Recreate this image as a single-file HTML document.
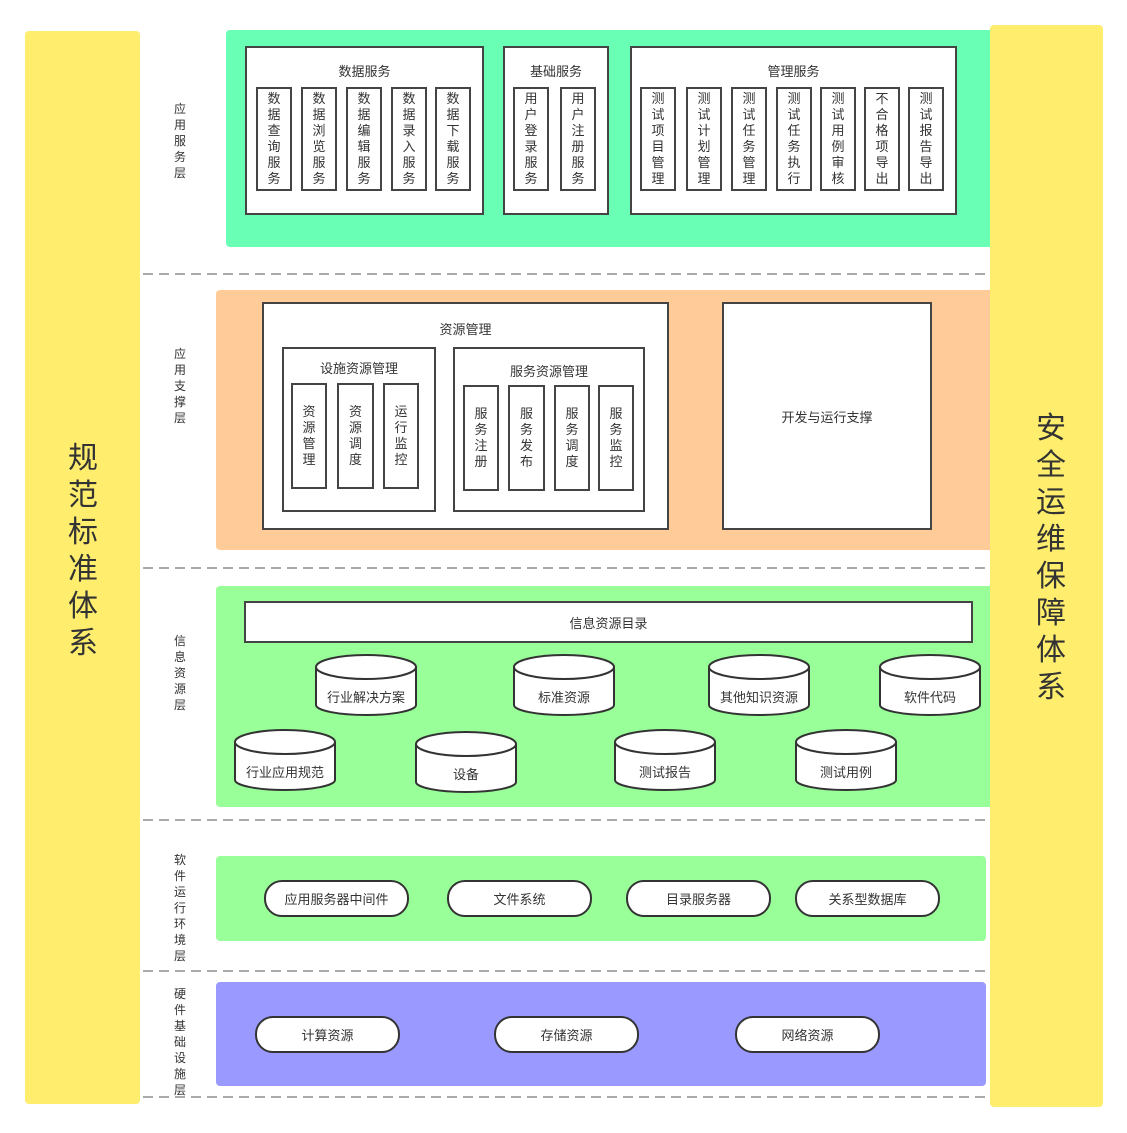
<!DOCTYPE html>
<html><head><meta charset="utf-8"><style>
body{margin:0;width:1127px;height:1133px;background:#fff;position:relative;font-family:"Liberation Sans","Noto Sans CJK SC",sans-serif;color:#333;overflow:hidden}
div{box-sizing:border-box}
.a{position:absolute}
.bg{position:absolute;border-radius:4px}
.box{position:absolute;background:#fff;border:2px solid #444;font-size:13px;text-align:center}
.col{position:absolute;background:#fff;border:2px solid #444;font-size:13px;display:flex;align-items:center;justify-content:center;text-align:center;line-height:16px;width:36px}
.t{position:absolute;width:100%;text-align:center;font-size:13px}
.dash{position:absolute;left:143px;width:847px;height:2px;background:repeating-linear-gradient(90deg,#aaa 0 10px,transparent 10px 16px)}
.lab{position:absolute;left:172px;width:16px;font-size:12px;line-height:16px;text-align:center;color:#333}
.pill{position:absolute;background:#fff;border:2px solid #333;border-radius:18px;height:37px;width:145px;display:flex;align-items:center;justify-content:center;font-size:13px}
.cyl{position:absolute;width:104px;height:64px}
.cyl span{position:absolute;left:0;width:100%;top:34px;text-align:center;font-size:13px}
</style></head><body>
<div class="bg" style="left:25px;top:31px;width:115px;height:1073px;background:#ffee6e"></div>
<div class="a" style="left:66px;top:440px;width:34px;font-size:30px;line-height:37px;text-align:center;color:#333">规<br>范<br>标<br>准<br>体<br>系</div>

<div class="bg" style="left:226px;top:30px;width:770px;height:217px;background:#69ffb4"></div>
<div class="bg" style="left:216px;top:290px;width:780px;height:260px;background:#ffcc99"></div>
<div class="bg" style="left:216px;top:586px;width:780px;height:221px;background:#99ff99"></div>
<div class="bg" style="left:216px;top:856px;width:770px;height:85px;background:#99ff99"></div>
<div class="bg" style="left:216px;top:982px;width:770px;height:104px;background:#9999ff"></div>

<div class="bg" style="left:990px;top:25px;width:113px;height:1082px;background:#ffee6e"></div>
<div class="a" style="left:1033px;top:410px;width:36px;font-size:30px;line-height:37px;text-align:center;color:#333">安<br>全<br>运<br>维<br>保<br>障<br>体<br>系</div>

<div class="dash" style="top:273px"></div>
<div class="dash" style="top:567px"></div>
<div class="dash" style="top:819px"></div>
<div class="dash" style="top:970px"></div>
<div class="dash" style="top:1096px"></div>

<div class="lab" style="top:101px">应<br>用<br>服<br>务<br>层</div>
<div class="lab" style="top:346px">应<br>用<br>支<br>撑<br>层</div>
<div class="lab" style="top:633px">信<br>息<br>资<br>源<br>层</div>
<div class="lab" style="top:852px">软<br>件<br>运<br>行<br>环<br>境<br>层</div>
<div class="lab" style="top:986px">硬<br>件<br>基<br>础<br>设<br>施<br>层</div>

<div class="box" style="left:245px;top:46px;width:239px;height:169px"><div class="t" style="top:13px">数据服务</div></div>
<div class="col" style="left:256px;top:87px;height:104px">数<br>据<br>查<br>询<br>服<br>务</div>
<div class="col" style="left:301px;top:87px;height:104px">数<br>据<br>浏<br>览<br>服<br>务</div>
<div class="col" style="left:346px;top:87px;height:104px">数<br>据<br>编<br>辑<br>服<br>务</div>
<div class="col" style="left:391px;top:87px;height:104px">数<br>据<br>录<br>入<br>服<br>务</div>
<div class="col" style="left:435px;top:87px;height:104px">数<br>据<br>下<br>载<br>服<br>务</div>

<div class="box" style="left:503px;top:46px;width:106px;height:169px"><div class="t" style="top:13px">基础服务</div></div>
<div class="col" style="left:513px;top:87px;height:104px">用<br>户<br>登<br>录<br>服<br>务</div>
<div class="col" style="left:560px;top:87px;height:104px">用<br>户<br>注<br>册<br>服<br>务</div>

<div class="box" style="left:630px;top:46px;width:327px;height:169px"><div class="t" style="top:13px">管理服务</div></div>
<div class="col" style="left:640px;top:87px;height:104px">测<br>试<br>项<br>目<br>管<br>理</div>
<div class="col" style="left:686px;top:87px;height:104px">测<br>试<br>计<br>划<br>管<br>理</div>
<div class="col" style="left:731px;top:87px;height:104px">测<br>试<br>任<br>务<br>管<br>理</div>
<div class="col" style="left:776px;top:87px;height:104px">测<br>试<br>任<br>务<br>执<br>行</div>
<div class="col" style="left:820px;top:87px;height:104px">测<br>试<br>用<br>例<br>审<br>核</div>
<div class="col" style="left:864px;top:87px;height:104px">不<br>合<br>格<br>项<br>导<br>出</div>
<div class="col" style="left:908px;top:87px;height:104px">测<br>试<br>报<br>告<br>导<br>出</div>

<div class="box" style="left:262px;top:302px;width:407px;height:228px"><div class="t" style="top:15px">资源管理</div></div>
<div class="box" style="left:282px;top:347px;width:154px;height:165px"><div class="t" style="top:9px">设施资源管理</div></div>
<div class="col" style="left:291px;top:383px;height:106px">资<br>源<br>管<br>理</div>
<div class="col" style="left:337px;top:383px;height:106px;width:37px">资<br>源<br>调<br>度</div>
<div class="col" style="left:383px;top:383px;height:106px">运<br>行<br>监<br>控</div>
<div class="box" style="left:453px;top:347px;width:192px;height:165px"><div class="t" style="top:12px">服务资源管理</div></div>
<div class="col" style="left:463px;top:385px;height:106px">服<br>务<br>注<br>册</div>
<div class="col" style="left:508px;top:385px;height:106px;width:37px">服<br>务<br>发<br>布</div>
<div class="col" style="left:554px;top:385px;height:106px">服<br>务<br>调<br>度</div>
<div class="col" style="left:598px;top:385px;height:106px">服<br>务<br>监<br>控</div>
<div class="box" style="left:722px;top:302px;width:210px;height:228px;display:flex;align-items:center;justify-content:center">开发与运行支撑</div>

<div class="box" style="left:244px;top:601px;width:729px;height:42px;display:flex;align-items:center;justify-content:center">信息资源目录</div>

<div class="cyl" style="left:314px;top:653px"><svg width="104" height="64"><path d="M2,14 L2,52 A50,10 0 0 0 102,52 L102,14" fill="#fff" stroke="#333" stroke-width="2"/><ellipse cx="52" cy="14" rx="50" ry="12" fill="#fff" stroke="#333" stroke-width="2"/></svg><span>行业解决方案</span></div>
<div class="cyl" style="left:512px;top:653px"><svg width="104" height="64"><path d="M2,14 L2,52 A50,10 0 0 0 102,52 L102,14" fill="#fff" stroke="#333" stroke-width="2"/><ellipse cx="52" cy="14" rx="50" ry="12" fill="#fff" stroke="#333" stroke-width="2"/></svg><span>标准资源</span></div>
<div class="cyl" style="left:707px;top:653px"><svg width="104" height="64"><path d="M2,14 L2,52 A50,10 0 0 0 102,52 L102,14" fill="#fff" stroke="#333" stroke-width="2"/><ellipse cx="52" cy="14" rx="50" ry="12" fill="#fff" stroke="#333" stroke-width="2"/></svg><span>其他知识资源</span></div>
<div class="cyl" style="left:878px;top:653px"><svg width="104" height="64"><path d="M2,14 L2,52 A50,10 0 0 0 102,52 L102,14" fill="#fff" stroke="#333" stroke-width="2"/><ellipse cx="52" cy="14" rx="50" ry="12" fill="#fff" stroke="#333" stroke-width="2"/></svg><span>软件代码</span></div>

<div class="cyl" style="left:233px;top:728px"><svg width="104" height="64"><path d="M2,14 L2,52 A50,10 0 0 0 102,52 L102,14" fill="#fff" stroke="#333" stroke-width="2"/><ellipse cx="52" cy="14" rx="50" ry="12" fill="#fff" stroke="#333" stroke-width="2"/></svg><span>行业应用规范</span></div>
<div class="cyl" style="left:414px;top:730px"><svg width="104" height="64"><path d="M2,14 L2,52 A50,10 0 0 0 102,52 L102,14" fill="#fff" stroke="#333" stroke-width="2"/><ellipse cx="52" cy="14" rx="50" ry="12" fill="#fff" stroke="#333" stroke-width="2"/></svg><span>设备</span></div>
<div class="cyl" style="left:613px;top:728px"><svg width="104" height="64"><path d="M2,14 L2,52 A50,10 0 0 0 102,52 L102,14" fill="#fff" stroke="#333" stroke-width="2"/><ellipse cx="52" cy="14" rx="50" ry="12" fill="#fff" stroke="#333" stroke-width="2"/></svg><span>测试报告</span></div>
<div class="cyl" style="left:794px;top:728px"><svg width="104" height="64"><path d="M2,14 L2,52 A50,10 0 0 0 102,52 L102,14" fill="#fff" stroke="#333" stroke-width="2"/><ellipse cx="52" cy="14" rx="50" ry="12" fill="#fff" stroke="#333" stroke-width="2"/></svg><span>测试用例</span></div>

<div class="pill" style="left:264px;top:880px">应用服务器中间件</div>
<div class="pill" style="left:447px;top:880px">文件系统</div>
<div class="pill" style="left:626px;top:880px">目录服务器</div>
<div class="pill" style="left:795px;top:880px">关系型数据库</div>

<div class="pill" style="left:255px;top:1016px">计算资源</div>
<div class="pill" style="left:494px;top:1016px">存储资源</div>
<div class="pill" style="left:735px;top:1016px">网络资源</div>
</body></html>
